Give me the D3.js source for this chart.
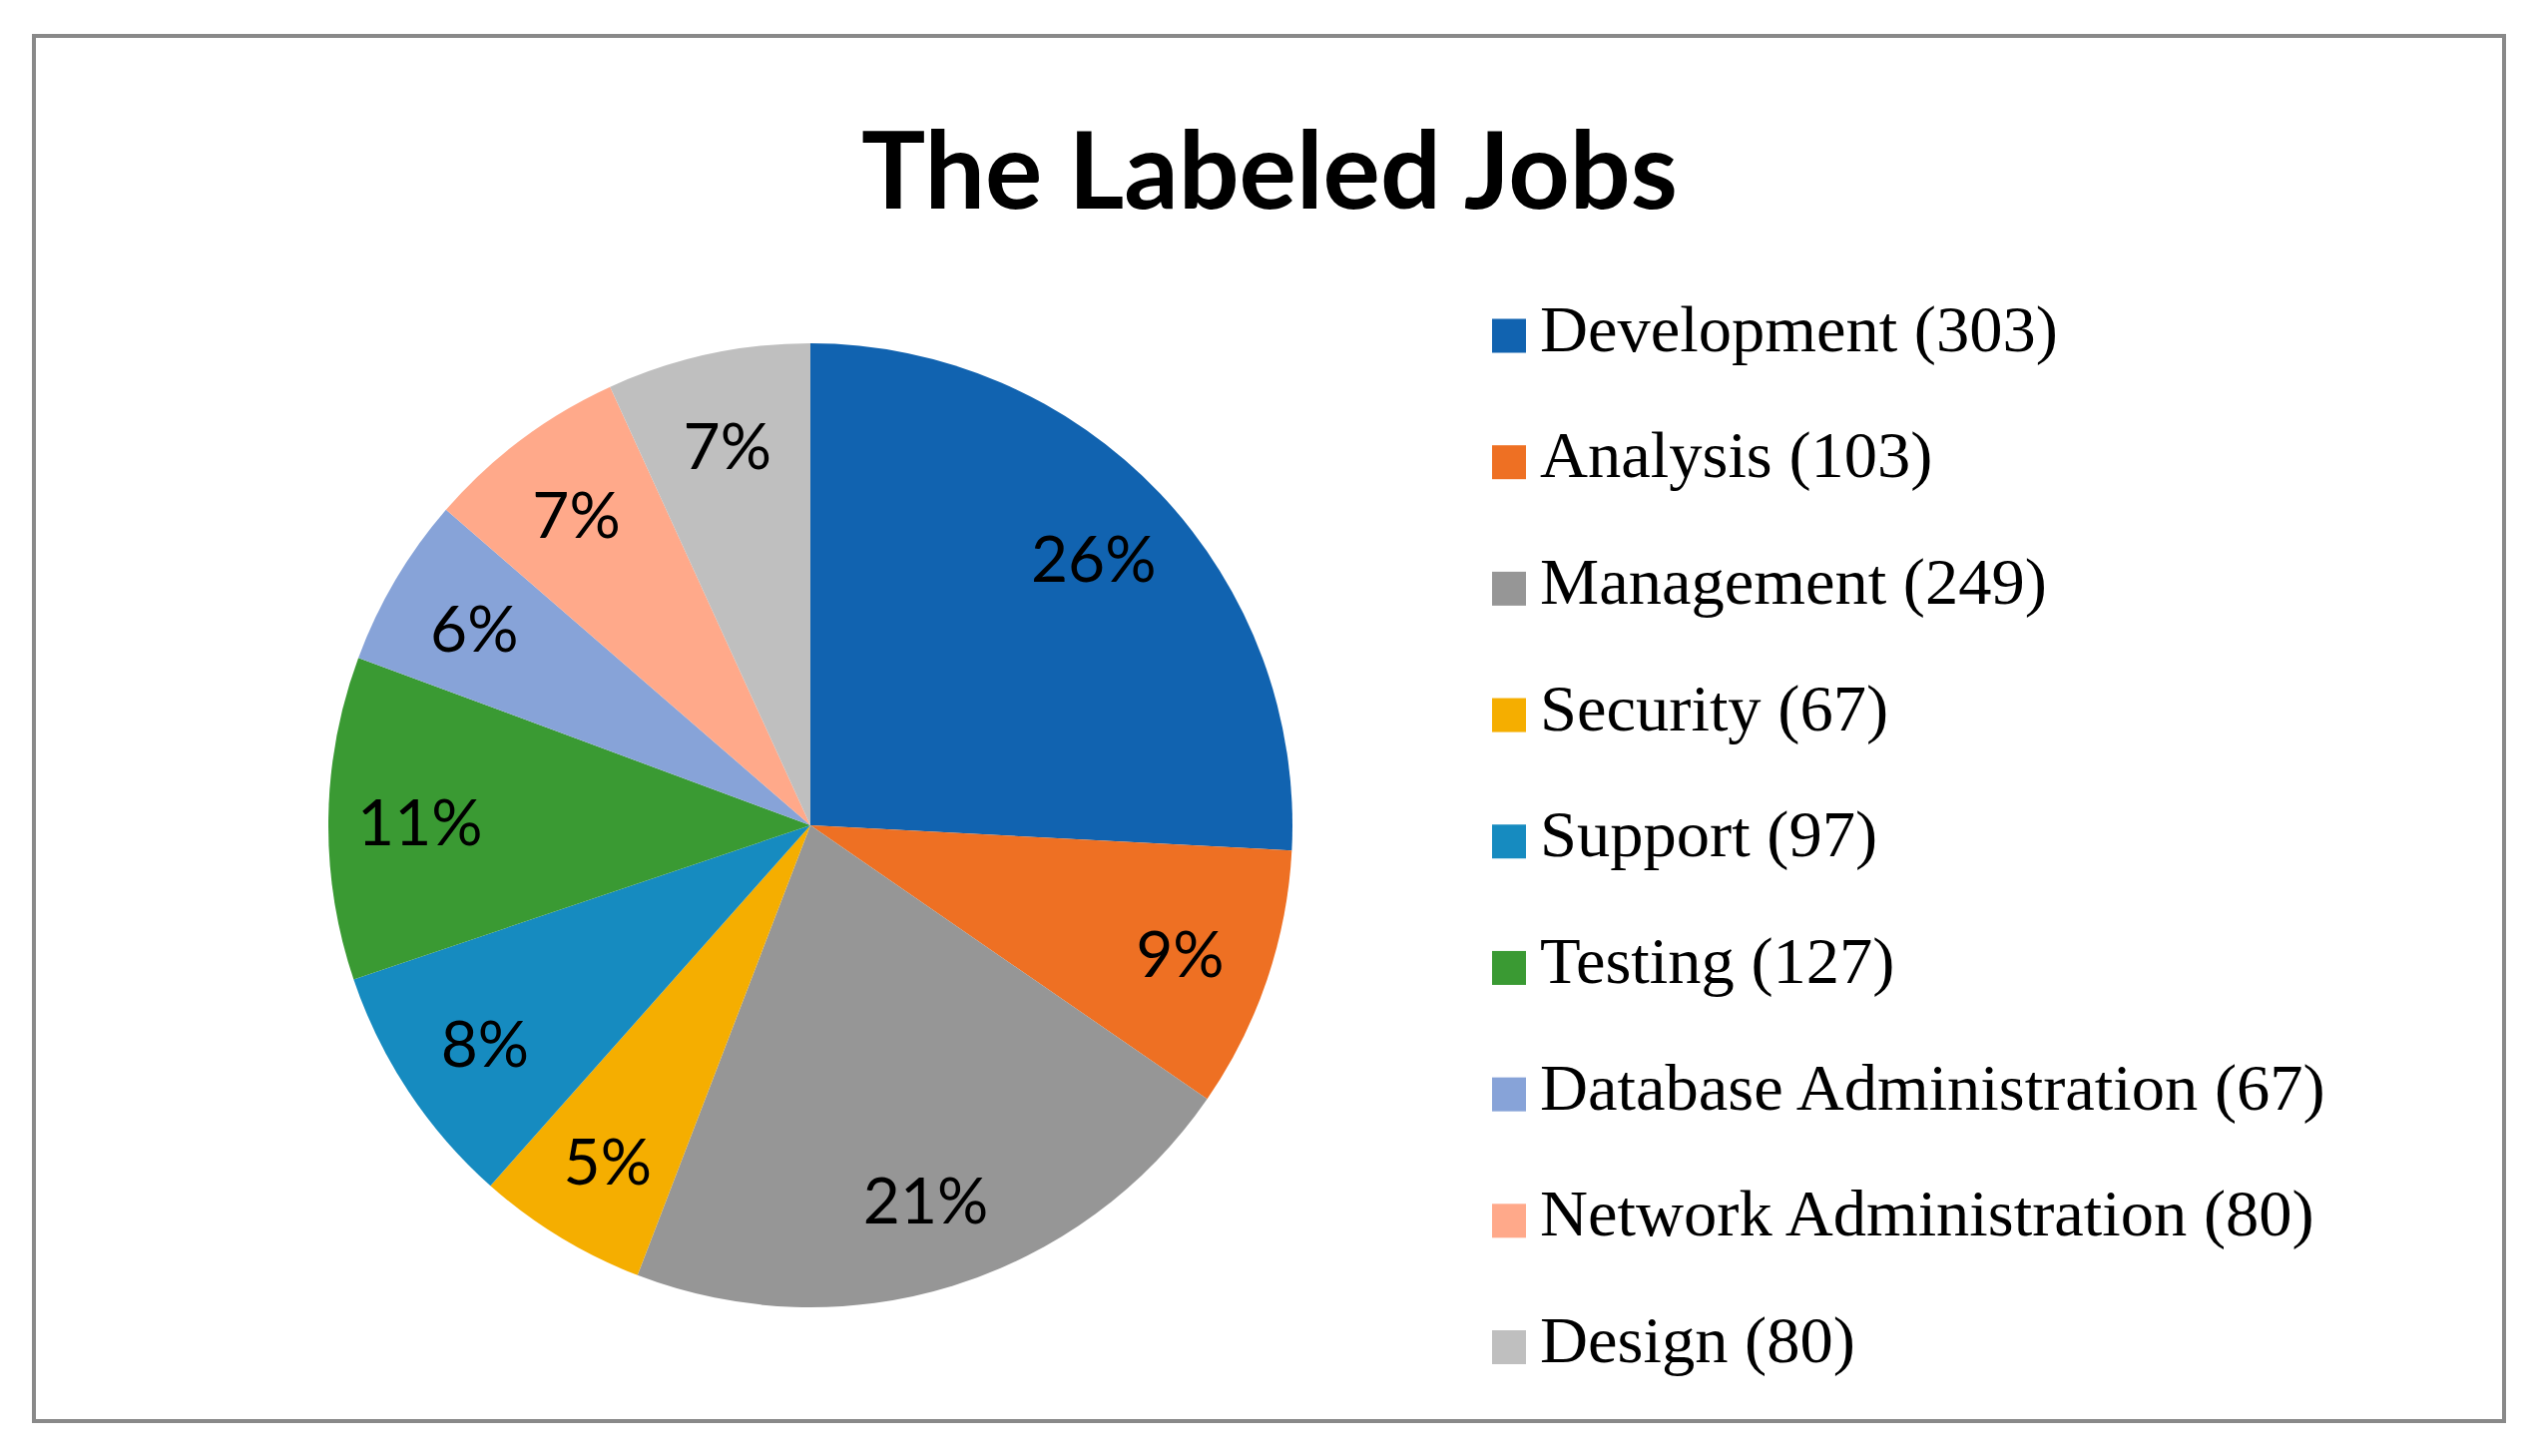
<!DOCTYPE html>
<html>
<head>
<meta charset="utf-8">
<script src="https://cdn.jsdelivr.net/npm/d3@7"></script>
<style>
  body { margin: 0; background: #fff; }
</style>
</head>
<body>
<svg id="chart" width="2538" height="1459"></svg>
<script>
// chart data
var categories = ['Development', 'Analysis', 'Management', 'Security', 'Support',
                  'Testing', 'Database Administration', 'Network Administration', 'Design'];
var counts = [303, 103, 249, 67, 97, 127, 67, 80, 80];
// percentage labels as printed on the slices
var pctLabels = ['26%', '9%', '21%', '5%', '8%', '11%', '6%', '7%', '7%'];
var colors = ['#1163B0', '#EE7023', '#969696', '#F5AE00', '#168BC0',
              '#3A9A33', '#87A3D8', '#FFA98A', '#BFBFBF'];

var svg = d3.select('#chart');

// outer frame
svg.append('rect')
    .attr('x', 34).attr('y', 36)
    .attr('width', 2475).attr('height', 1388)
    .attr('fill', 'none')
    .attr('stroke', '#898989')
    .attr('stroke-width', 4);

// title, sized to match width
var title = svg.append('text')
    .attr('x', 1272).attr('y', 209)
    .attr('text-anchor', 'middle')
    .style('font-family', 'Lato, sans-serif')
    .style('font-weight', 'bold')
    .style('font-size', '107px')
    .text('The Labeled Jobs');
var tw = title.node().getComputedTextLength();
title.style('font-size', (107 * 818 / tw) + 'px');

var data = categories.map(function(c, i) {
    return {name: c, count: counts[i], label: pctLabels[i], color: colors[i]};
});

var radius = 483;
var pieG = svg.append('g')
    .attr('transform', 'translate(' + [812, 827] + ')');

var pie = d3.pie()
    .sort(null)
    .value(function(d) { return d.count; });

var arc = d3.arc().innerRadius(0).outerRadius(radius);
var labelArc = d3.arc().innerRadius(radius * 0.81).outerRadius(radius * 0.81);

var arcs = pie(data);

pieG.selectAll('path')
    .data(arcs)
    .enter()
    .append('path')
    .attr('d', arc)
    .attr('fill', function(d) { return d.data.color; });

pieG.selectAll('.pct')
    .data(arcs)
    .enter()
    .append('text')
    .attr('class', 'pct')
    .attr('transform', function(d) {
        return 'translate(' + labelArc.centroid(d) + ')';
    })
    .attr('text-anchor', 'middle')
    .attr('dy', '0.40em')
    .style('font-family', 'Lato, sans-serif')
    .style('font-size', '64px')
    .attr('fill', '#000')
    .text(function(d) { return d.data.label; });

// legend
var legendY = d3.scalePoint()
    .domain(categories)
    .range([336.5, 1350]);

var legend = svg.append('g');
var rows = legend.selectAll('.row')
    .data(data)
    .enter()
    .append('g')
    .attr('class', 'row')
    .attr('transform', function(d) {
        return 'translate(' + [1495, legendY(d.name)] + ')';
    });

rows.append('rect')
    .attr('x', 0).attr('y', -17)
    .attr('width', 34).attr('height', 34)
    .attr('fill', function(d) { return d.color; });

rows.append('text')
    .attr('x', 48)
    .attr('y', 15)
    .style('font-family', '"Liberation Serif", "Times New Roman", serif')
    .style('font-size', '66.5px')
    .attr('fill', '#000')
    .text(function(d) { return d.name + ' (' + d.count + ')'; });
</script>
</body>
</html>
